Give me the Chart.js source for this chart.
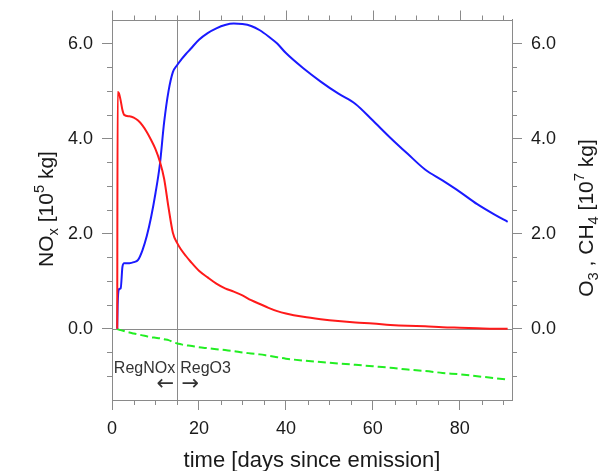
<!DOCTYPE html>
<html><head><meta charset="utf-8">
<script src="https://cdn.jsdelivr.net/npm/chart.js@4/dist/chart.umd.min.js"></script>
<style>html,body{margin:0;padding:0;background:#fff;}#wrap{width:603px;height:471px;}</style>
</head><body><div id="wrap"><canvas id="c" width="603" height="471"></canvas></div>
<script>
const days = [1.2, 1.3, 1.6, 2.0, 2.4, 2.8, 4, 5, 6, 7, 8, 9, 10, 11, 12, 13, 14, 15, 16, 17, 18, 20, 22, 24, 26, 28, 30, 32, 34, 36, 38, 40, 44, 48, 52, 56, 60, 64, 68, 72, 76, 80, 84, 88, 91];
const noxValues = [0, 4.98, 4.95, 4.8, 4.6, 4.5, 4.47, 4.44, 4.38, 4.28, 4.14, 3.97, 3.78, 3.52, 3.15, 2.55, 2.02, 1.8, 1.65, 1.53, 1.42, 1.22, 1.08, 0.95, 0.85, 0.78, 0.7, 0.6, 0.52, 0.44, 0.37, 0.32, 0.25, 0.2, 0.16, 0.13, 0.11, 0.08, 0.06, 0.05, 0.03, 0.02, 0.01, 0.0, 0.0];
const o3Values = [0, 0.5, 0.83, 0.85, 1.3, 1.38, 1.38, 1.4, 1.45, 1.65, 1.95, 2.35, 2.85, 3.45, 4.35, 5.0, 5.4, 5.55, 5.67, 5.78, 5.88, 6.08, 6.22, 6.32, 6.39, 6.42, 6.41, 6.37, 6.28, 6.15, 6.0, 5.8, 5.48, 5.2, 4.95, 4.73, 4.38, 4.02, 3.68, 3.35, 3.12, 2.88, 2.62, 2.4, 2.25];
const ch4Values = [0, -0.01, -0.02, -0.03, -0.04, -0.05, -0.08, -0.1, -0.12, -0.14, -0.16, -0.18, -0.19, -0.2, -0.22, -0.24, -0.28, -0.31, -0.33, -0.35, -0.36, -0.39, -0.41, -0.43, -0.45, -0.47, -0.5, -0.52, -0.54, -0.57, -0.6, -0.63, -0.67, -0.7, -0.73, -0.76, -0.79, -0.82, -0.86, -0.89, -0.93, -0.96, -1.0, -1.04, -1.07];
const xTickValues = [0, 20, 40, 60, 80];
const yTickValues = [0, 2, 4, 6];
const xMinorStep = 5;
const yMinorStep = 0.5;
const regionSplitDay = 15;
const regionLabels = ['RegNOx', 'RegO3'];

const FONT = "'Liberation Sans', Arial, Helvetica, sans-serif";
const AXIS = '#8a8a8a';
const TXT = '#1a1a1a';

function pts(vals) { return days.map((d, i) => ({x: d, y: vals[i]})); }

function drawRich(ctx, parts, cx, cy, rot, size) {
  ctx.save();
  ctx.translate(cx, cy);
  ctx.rotate(rot);
  ctx.fillStyle = TXT;
  ctx.textBaseline = 'alphabetic';
  ctx.textAlign = 'left';
  const widths = parts.map(p => {
    const s = p.m === 'n' ? size : size * 0.7;
    ctx.font = s + 'px ' + FONT;
    return ctx.measureText(p.t).width;
  });
  let x = -widths.reduce((a, b) => a + b, 0) / 2;
  parts.forEach((p, i) => {
    const s = p.m === 'n' ? size : size * 0.7;
    ctx.font = s + 'px ' + FONT;
    const dy = p.m === 'sub' ? size * 0.25 : (p.m === 'sup' ? -size * 0.42 : 0);
    ctx.fillText(p.t, x, dy);
    x += widths[i];
  });
  ctx.restore();
}

const decor = {
  id: 'decor',
  beforeDatasetsDraw(chart) {
    const {ctx, chartArea: a, scales: {x, y}} = chart;
    ctx.save();
    ctx.strokeStyle = AXIS;
    ctx.lineWidth = 1;
    const y0 = Math.round(y.getPixelForValue(0)) + 0.5;
    const xs = Math.round(x.getPixelForValue(regionSplitDay)) + 0.5;
    ctx.beginPath();
    ctx.moveTo(a.left, y0); ctx.lineTo(a.right, y0);
    ctx.moveTo(xs, a.top); ctx.lineTo(xs, a.bottom);
    ctx.stroke();
    ctx.restore();
  },
  afterDraw(chart) {
    const {ctx, chartArea: a, scales: {x, y}} = chart;
    ctx.save();
    ctx.strokeStyle = AXIS;
    ctx.lineWidth = 1;
    ctx.beginPath();
    const top = Math.round(a.top) + 0.5;
    ctx.moveTo(a.left, top); ctx.lineTo(a.right, top);
    xTickValues.forEach(v => {
      const px = Math.round(x.getPixelForValue(v)) + 0.5;
      ctx.moveTo(px, top); ctx.lineTo(px, top - 10);
    });
    for (let v = xMinorStep; v < x.max; v += xMinorStep) {
      if (xTickValues.includes(v)) continue;
      const px = Math.round(x.getPixelForValue(v)) + 0.5;
      ctx.moveTo(px, top); ctx.lineTo(px, top - 5);
      ctx.moveTo(px, a.bottom); ctx.lineTo(px, a.bottom + 5);
    }
    for (let v = y.min + yMinorStep; v < y.max - 1e-6; v += yMinorStep) {
      const r = Math.round(v * 100) / 100;
      if (yTickValues.includes(r)) continue;
      const py = Math.round(y.getPixelForValue(r)) + 0.5;
      ctx.moveTo(a.left, py); ctx.lineTo(a.left - 5, py);
      ctx.moveTo(a.right, py); ctx.lineTo(a.right + 5, py);
    }
    ctx.stroke();

    const xs = x.getPixelForValue(regionSplitDay);
    ctx.fillStyle = '#333';
    ctx.font = '16px ' + FONT;
    ctx.textBaseline = 'alphabetic';
    ctx.textAlign = 'right';
    ctx.fillText(regionLabels[0], xs - 2, 373);
    ctx.textAlign = 'left';
    ctx.fillText(regionLabels[1], xs + 3, 373);
    ctx.font = "21px 'DejaVu Sans', sans-serif";
    ctx.textBaseline = 'middle';
    ctx.textAlign = 'center';
    ctx.fillText('\u2190', xs - 12, 385);
    ctx.fillText('\u2192', xs + 13, 385);
    ctx.restore();

    drawRich(ctx, [{t: 'time [days since emission]', m: 'n'}], (a.left + a.right) / 2, 467, 0, 22);
    drawRich(ctx, [{t: 'NO', m: 'n'}, {t: 'x', m: 'sub'}, {t: ' [10', m: 'n'}, {t: '5', m: 'sup'}, {t: ' kg]', m: 'n'}], 53, 209, -Math.PI / 2, 21);
    drawRich(ctx, [{t: 'O', m: 'n'}, {t: '3', m: 'sub'}, {t: ' , CH', m: 'n'}, {t: '4', m: 'sub'}, {t: ' [10', m: 'n'}, {t: '7', m: 'sup'}, {t: ' kg]', m: 'n'}], 593, 218, -Math.PI / 2, 21);
  }
};

const gridOpts = {drawOnChartArea: false, color: AXIS, tickLength: 10, tickWidth: 1};
const borderOpts = {color: AXIS, width: 1};
const yTicksCfg = {font: {size: 18, family: FONT}, color: TXT, padding: 9, callback: v => Number(v).toFixed(1)};

new Chart(document.getElementById('c'), {
  type: 'line',
  data: {
    datasets: [
      {label: 'NOx', data: pts(noxValues), borderColor: '#ff1a1a', borderWidth: 2, pointRadius: 0, cubicInterpolationMode: 'monotone', fill: false, yAxisID: 'y'},
      {label: 'O3', data: pts(o3Values), borderColor: '#1a1aff', borderWidth: 2, pointRadius: 0, cubicInterpolationMode: 'monotone', fill: false, yAxisID: 'y'},
      {label: 'CH4', data: pts(ch4Values), borderColor: '#22ee22', borderWidth: 2, borderDash: [8, 4], pointRadius: 0, cubicInterpolationMode: 'monotone', fill: false, yAxisID: 'y'}
    ]
  },
  options: {
    responsive: false,
    animation: false,
    devicePixelRatio: 1,
    layout: {padding: {top: 17, left: 0, right: 0, bottom: 0}},
    plugins: {legend: {display: false}, tooltip: {enabled: false}},
    scales: {
      x: {
        type: 'linear', position: 'bottom', min: 0, max: 92,
        afterBuildTicks: s => { s.ticks = xTickValues.map(v => ({value: v})); },
        afterFit: s => { s.height = 71; },
        grid: gridOpts, border: borderOpts,
        ticks: {font: {size: 18, family: FONT}, color: TXT, padding: 8, maxRotation: 0, callback: v => String(v)}
      },
      y: {
        type: 'linear', position: 'left', min: -1.5, max: 6.5,
        afterBuildTicks: s => { s.ticks = yTickValues.map(v => ({value: v})); },
        afterFit: s => { s.width = 112; },
        grid: gridOpts, border: borderOpts, ticks: yTicksCfg
      },
      y2: {
        type: 'linear', position: 'right', min: -1.5, max: 6.5,
        afterBuildTicks: s => { s.ticks = yTickValues.map(v => ({value: v})); },
        afterFit: s => { s.width = 91; },
        grid: gridOpts, border: borderOpts, ticks: yTicksCfg
      }
    }
  },
  plugins: [decor]
});
</script>
</body></html>
